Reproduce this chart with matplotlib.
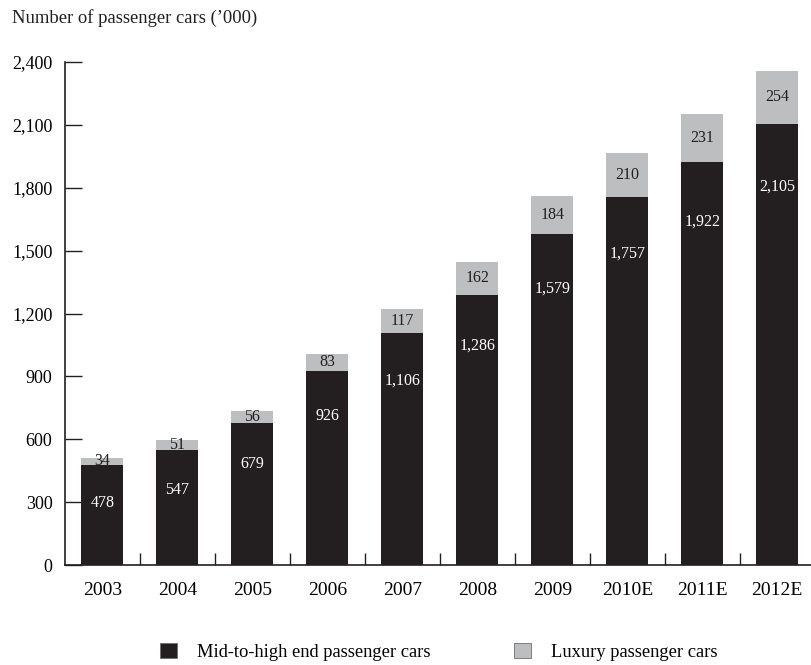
import matplotlib.pyplot as plt
import numpy as np

plt.rcParams['font.family'] = ['Liberation Serif', 'DejaVu Serif']

years = ['2003', '2004', '2005', '2006', '2007', '2008', '2009', '2010E', '2011E', '2012E']
mid_high = [478, 547, 679, 926, 1106, 1286, 1579, 1757, 1922, 2105]
luxury = [34, 51, 56, 83, 117, 162, 184, 210, 231, 254]
yticks = [0, 300, 600, 900, 1200, 1500, 1800, 2100, 2400]

dark = '#231f20'
grey = '#bcbec0'

fig = plt.figure(figsize=(8.11, 6.65), dpi=100)
ax = fig.add_axes([65 / 811, 1 - 565 / 665, 746 / 811, 503 / 665])

x = np.arange(len(years))
w = 0.56
ax.bar(x, mid_high, w, color=dark, label='Mid-to-high end passenger cars')
ax.bar(x, luxury, w, bottom=mid_high, color=grey, label='Luxury passenger cars')

for xi, m, l in zip(x, mid_high, luxury):
    # white value sits a little below the top of the dark segment
    ax.text(xi, m - (150 + 0.07 * m), f'{m:,}', ha='center', va='center',
            color='white', fontsize=11.5)
    ax.text(xi, m + l / 2, f'{l:,}', ha='center', va='center', color=dark, fontsize=11.5)

ax.set_xlim(-0.5, 9.45)
ax.set_ylim(0, 2400)
ax.set_yticks(yticks)
ax.set_yticklabels([f'{t:,}' for t in yticks])
ax.set_xticks(x)
ax.set_xticklabels(years)
ax.set_xticks(x[:-1] + 0.5, minor=True)

ax.tick_params(axis='y', direction='in', length=12, width=1, pad=9, labelsize=13, color=dark)
ax.tick_params(axis='x', which='major', length=0, pad=12, labelsize=14)
ax.tick_params(axis='x', which='minor', direction='in', length=9, width=1, color=dark)

for s in ['top', 'right']:
    ax.spines[s].set_visible(False)
for s in ['left', 'bottom']:
    ax.spines[s].set_color(dark)
    ax.spines[s].set_linewidth(1.2)

fig.text(12 / 811, 1 - 18 / 665, "Number of passenger cars (\u2019000)", ha='left', va='center',
         fontsize=13.4, color=dark)

leg = fig.legend(loc='center', bbox_to_anchor=(0.541, 1 - 652 / 665), ncol=2, frameon=False,
                 fontsize=13.3, handlelength=0.92, handleheight=0.92, handletextpad=1.08,
                 columnspacing=4.5)
for h in leg.legend_handles:
    h.set_edgecolor('#6d6e71')
    h.set_linewidth(0.6)

fig.savefig('out.png', dpi=100)
